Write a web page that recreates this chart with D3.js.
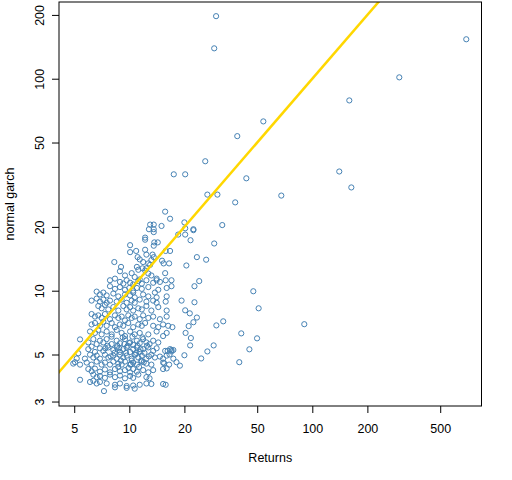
<!doctype html>
<html lang="en">
<head>
  <meta charset="utf-8">
  <title>normal garch vs Returns</title>
  <script src="https://cdn.jsdelivr.net/npm/d3@7"></script>
  <style>
    body { margin: 0; background: #fff; }
    text { font-family: "Liberation Sans", Arial, sans-serif; font-size: 12.5px; fill: #000; }
  </style>
</head>
<body>
  <div id="chart"></div>
  <script type="text/javascript">

    var width = 512, height = 480;

    // scatter values (same order in both arrays)
    var returns = [
      15.7,16.7,13.0,13.6,15.0,20.0,12.8,13.6,13.6,20.2,22.4,22.4,18.5,20.2,12.2,12.2,21.6,13.7,14.3,13.6,10.1,29.1,
      10.1,10.9,11.1,12.2,12.4,13.4,13.2,13.6,15.8,16.7,23.4,8.28,9.01,15.1,15.4,16.5,20.5,11.4,11.9,12.7,13.0,11.0,11.2,11.8,12.4,12.2,12.7,
      8.89,9.47,10.3,10.7,11.4,13.2,14.1,15.7,
      7.84,8.35,8.89,9.27,9.67,10.1,10.5,11.2,11.7,12.4,13.5,14.1,14.7,15.8,17.0,24.1,
      7.84,8.35,8.89,9.47,10.0,10.5,11.0,11.7,12.7,14.4,16.0,17.0,22.7,
      6.63,6.91,7.21,7.52,8.18,8.71,9.47,10.1,10.5,10.7,11.9,12.7,13.8,14.1,16.0,47.6,
      6.22,6.63,6.91,7.21,7.52,7.84,8.53,9.08,9.67,10.3,10.7,11.4,12.4,13.5,14.1,15.8,19.3,22.7,
      6.77,7.06,7.36,7.68,8.18,8.71,9.27,9.67,10.1,10.5,11.2,11.7,12.4,13.2,14.4,16.0,20.2,21.4,50.9,
      6.22,6.49,6.77,7.06,7.36,7.84,8.35,8.71,9.08,9.47,9.87,10.3,10.7,11.4,11.9,12.7,13.5,14.7,16.0,23.4,
      6.22,6.49,6.91,7.21,7.52,8.01,8.35,8.89,9.27,9.87,10.5,11.2,11.7,12.2,13.5,14.4,15.3,16.3,17.2,22.4,21.1,29.9,32.6,
      6.10,6.49,6.77,7.06,7.52,8.01,8.53,9.08,9.47,10.1,10.7,11.4,12.7,14.1,15.3,16.0,20.3,21.7,40.9,
      5.38,5.97,6.36,6.63,6.91,7.21,7.52,8.01,8.53,8.89,9.47,10.1,10.5,11.0,11.4,11.9,12.4,12.9,13.5,14.4,21.5,28.9,49.9,
      5.26,5.97,6.22,6.49,6.91,7.21,7.68,8.18,8.53,8.89,9.27,9.67,10.1,10.5,11.0,11.4,11.9,12.7,13.5,14.1,15.7,16.7,17.0,17.4,26.7,45.3,
      4.94,5.72,6.10,6.36,6.63,6.91,7.36,7.68,8.18,8.53,8.89,9.27,9.67,10.3,10.7,11.2,11.7,12.4,13.2,13.8,14.7,15.3,16.0,17.4,20.0,24.7,
      5.05,5.38,5.85,6.22,6.63,7.06,7.36,7.84,8.18,8.71,9.08,9.47,10.1,10.5,11.0,11.7,12.4,13.2,15.3,16.5,18.1,18.9,39.9,
      5.97,6.22,6.49,6.91,7.36,7.84,8.35,8.89,9.47,10.1,10.5,11.0,11.9,12.7,13.5,15.3,5.16,
      6.36,6.63,6.91,7.36,7.84,8.35,8.89,9.47,10.1,10.5,11.2,12.4,12.9,
      5.38,6.10,6.36,6.63,6.91,7.52,8.35,8.89,9.67,10.5,11.4,12.4,13.2,15.3,15.8,
      7.27,8.35,9.67,10.7,
      8.0,8.6,9.2,9.8,10.4,11.1,11.8,12.5,8.3,9.0,9.6,10.3,10.9,11.6,7.6,8.7,9.9,11.3,12.1,10.0,
      16.2,16.6,17.0,15.5,16.0,10.8,11.5,12.0,12.8,10.2,9.4,8.8,7.9,7.4,
      29.8,29.1,38.9,54.0,298.8,159.3,694,140.4,163.4,67.7,26.0,17.5,20.2,43.6,26.7,30.3,37.9,32.2,26.3,90.4
    ];
    var garch = [
      23.6,21.85,20.5,20.5,20.2,21.0,19.5,19.5,18.9,19.7,19.3,19.5,18.4,18.4,17.8,17.4,17.3,16.9,16.9,16.3,16.4,16.7,
      15.2,15.4,14.4,15.6,14.8,14.8,13.95,14.4,15.4,15.4,14.4,13.65,12.95,13.85,13.45,13.45,13.15,14.05,13.65,13.45,13.25,12.95,12.55,12.75,12.75,12.45,12.05,
      12.35,11.8,12.1,11.6,11.3,11.8,11.4,12.1,
      11.2,11.4,11.0,10.8,11.2,10.9,10.7,11.1,10.8,11.2,10.9,11.2,11.0,11.2,11.2,11.1,
      10.5,10.2,10.4,10.1,10.3,10.0,10.3,10.2,10.4,10.1,10.3,10.5,10.5,
      9.9,9.6,9.8,9.5,9.7,9.4,9.6,9.5,9.8,9.3,9.6,9.4,9.8,9.3,9.4,9.94,
      8.98,9.18,8.88,9.08,8.77,8.98,8.88,9.08,8.77,8.98,8.77,9.08,8.88,8.98,8.77,8.88,8.98,8.82,
      8.47,8.26,8.57,8.16,8.37,8.06,8.47,8.16,8.37,8.06,8.26,8.16,8.47,8.06,8.37,8.06,8.08,7.82,8.26,
      7.76,7.55,7.65,7.44,7.76,7.34,7.65,7.44,7.55,7.24,7.65,7.44,7.55,7.34,7.65,7.44,7.55,7.34,7.55,7.47,
      6.93,7.04,6.83,7.14,6.83,7.04,6.73,6.93,6.83,7.04,6.73,6.93,6.83,7.04,6.83,6.73,6.93,6.83,6.73,7.1,6.81,6.86,7.17,
      6.42,6.32,6.53,6.22,6.42,6.22,6.53,6.32,6.11,6.42,6.22,6.32,6.22,6.42,6.11,6.32,6.32,5.98,6.29,
      5.89,5.7,5.91,5.6,5.81,5.7,5.91,5.6,5.81,5.65,5.91,5.7,5.55,5.81,5.65,5.91,5.7,5.6,5.81,5.7,5.52,5.52,5.96,
      5.07,5.3,5.45,5.14,5.35,5.2,5.4,5.25,5.4,5.14,5.3,5.4,5.14,5.3,5.4,5.14,5.3,5.4,5.2,5.35,5.2,5.3,5.17,5.25,5.17,5.29,
      4.53,4.78,4.99,4.84,4.94,4.78,4.99,4.84,4.94,4.78,4.99,4.84,4.94,4.78,4.99,4.84,4.94,4.78,4.99,4.84,4.89,4.78,4.94,4.78,4.96,4.79,
      4.6,4.48,4.58,4.48,4.63,4.48,4.58,4.48,4.63,4.53,4.48,4.63,4.48,4.58,4.48,4.63,4.53,4.48,4.58,4.48,4.6,4.43,4.6,
      4.27,4.17,4.29,4.15,4.25,4.12,4.27,4.17,4.22,4.12,4.27,4.15,4.22,4.12,4.22,4.27,4.79,
      4.02,3.91,3.96,3.88,4.02,3.91,3.98,3.86,3.96,3.88,4.02,3.91,3.86,
      3.8,3.71,3.76,3.65,3.71,3.65,3.6,3.65,3.55,3.57,3.6,3.65,3.63,3.63,3.6,
      3.36,3.5,3.48,3.45,
      6.07,5.5,6.02,5.5,6.07,5.5,6.02,5.5,5.09,4.68,5.09,4.68,5.09,4.68,5.5,4.37,4.32,4.37,5.09,5.66,
      5.2,5.0,5.25,4.55,4.3,5.0,5.3,4.6,4.9,4.5,5.6,5.35,4.9,5.35,
      197.3,139.1,53.6,62.9,101.5,79.0,153.5,36.5,30.7,28.1,40.8,35.4,35.4,33.9,28.4,28.4,26.1,20.4,14.0,6.95
    ];

    // tick labels on the two log axes
    var xTicks = [5, 10, 20, 50, 100, 200, 500];
    var yTicks = [3, 5, 10, 20, 50, 100, 200];

    // the y = x reference line runs between these values
    var diag = [3, 300];

    var plotLeft = 59, plotRight = 481.5, plotTop = 2, plotBottom = 406;

    var x = d3.scaleLog().domain([4.128, 840.7]).range([plotLeft, plotRight]);
    var y = d3.scaleLog().domain([2.858, 230.1]).range([plotBottom, plotTop]);

    var svg = d3.select('#chart')
                .append('svg')
                .attr('width', width)
                .attr('height', height);

    svg.append('defs').append('clipPath')
       .attr('id', 'plotclip')
       .append('rect')
       .attr('x', plotLeft).attr('y', plotTop)
       .attr('width', plotRight - plotLeft).attr('height', plotBottom - plotTop);

    // points, R style open circles
    svg.append('g')
       .selectAll('circle')
       .data(returns.map(function(d, i) { return [d, garch[i]]; }))
       .enter()
       .append('circle')
       .attr('cx', function(d) { return x(d[0]); })
       .attr('cy', function(d) { return y(d[1]); })
       .attr('r', 2.6)
       .attr('fill', 'none')
       .attr('stroke', '#4682b4')
       .attr('stroke-width', 1);

    // gold y = x line
    svg.append('path')
       .datum(diag)
       .attr('clip-path', 'url(#plotclip)')
       .attr('d', d3.line().x(function(d) { return x(d); }).y(function(d) { return y(d); }))
       .attr('fill', 'none')
       .attr('stroke', '#ffd700')
       .attr('stroke-width', 2.5);

    // box round the plot
    svg.append('rect')
       .attr('x', plotLeft).attr('y', plotTop)
       .attr('width', plotRight - plotLeft).attr('height', plotBottom - plotTop)
       .attr('fill', 'none')
       .attr('stroke', '#000')
       .attr('stroke-width', 1);

    var xAxis = svg.append('g')
       .attr('transform', 'translate(0,' + plotBottom + ')')
       .call(d3.axisBottom(x).tickValues(xTicks).tickFormat(d3.format('d')).tickSize(7).tickPadding(0));
    xAxis.select('.domain').remove();
    xAxis.selectAll('text').attr('dy', null).attr('y', 27).style('font-size', null).style('font-family', null);

    var yAxis = svg.append('g')
       .attr('transform', 'translate(' + plotLeft + ',0)')
       .call(d3.axisLeft(y).tickValues(yTicks).tickFormat(d3.format('d')).tickSize(7));
    yAxis.select('.domain').remove();
    yAxis.selectAll('text')
         .attr('x', null).attr('dy', null)
         .attr('text-anchor', 'middle')
         .attr('transform', 'translate(-15.5,0) rotate(-90)')
         .style('font-size', null).style('font-family', null);
    svg.selectAll('.tick line').attr('stroke', '#000');
    svg.selectAll('.tick text').attr('fill', '#000');

    svg.append('text')
       .attr('x', (plotLeft + plotRight) / 2)
       .attr('y', 462)
       .attr('text-anchor', 'middle')
       .text('Returns');

    svg.append('text')
       .attr('transform', 'translate(14,' + (plotTop + plotBottom) / 2 + ') rotate(-90)')
       .attr('text-anchor', 'middle')
       .text('normal garch');

  </script>
</body>
</html>
